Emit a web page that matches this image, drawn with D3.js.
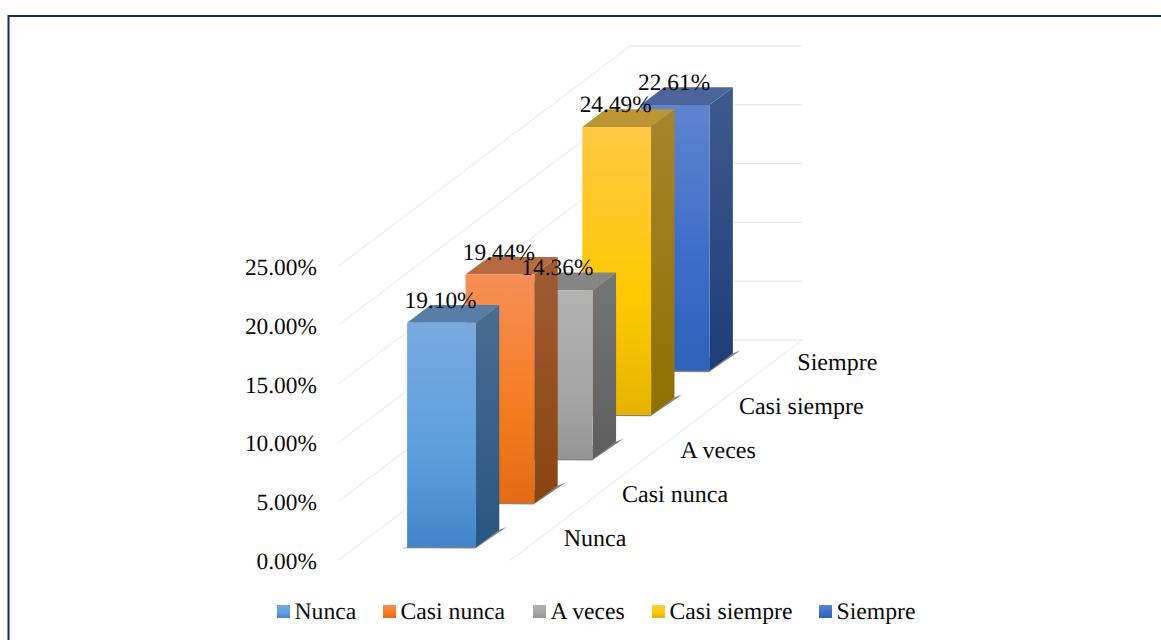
<!DOCTYPE html>
<html>
<head>
<meta charset="utf-8">
<script src="https://cdn.jsdelivr.net/npm/d3@7/dist/d3.min.js"></script>
<style>
  html, body { margin: 0; padding: 0; background: #fff; overflow: hidden; }
  text { font-family: "Liberation Serif", serif; fill: #0a0a0a; text-rendering: geometricPrecision; }
</style>
</head>
<body>
<div id="chart"></div>
<script>
const categories = ["Nunca", "Casi nunca", "A veces", "Casi siempre", "Siempre"];
const values = [19.10, 19.44, 14.36, 24.49, 22.61];
const valueTicks = [0, 5, 10, 15, 20, 25];

// colours of the faces, same order as categories
const frontTop = ["#78aae0", "#f68f58", "#b2b2b2", "#ffc845", "#6084cf"];
const frontMid = ["#5b9ede", "#f57b20", "#a6a6a6", "#ffc800", "#3c6cc8"];
const frontBottom = ["#4484c8", "#e36b15", "#959595", "#e6b400", "#2f62b8"];
const sideTop = ["#4a6c92", "#a05c35", "#757575", "#a8842d", "#3f5a8e"];
const sideBottom = ["#2a5582", "#8a440e", "#5e5e5e", "#8f7000", "#1e3c78"];
const topFace = ["#587ea8", "#b66a40", "#858585", "#bc9634", "#4b6499"];

const width = 1161, height = 640;
const svg = d3.select("#chart").append("svg")
  .attr("width", width)
  .attr("height", height);
const defs = svg.append("defs");

// border, the right side is not there in the picture
svg.append("path")
  .attr("d", "M8.5,640V16H1161")
  .attr("fill", "none")
  .attr("stroke", "#0d2a74")
  .attr("stroke-width", 2);

// the 3d box: origin is the front left corner of the floor
const origin = { x: 338, y: 560.5 };
const floorWidth = 172;
const depthVec = { x: 292, y: -220.5 };

const xBand = d3.scaleBand().domain(["bars"]).range([0, floorWidth])
  .paddingInner(0.6).paddingOuter(0.3);
const zBand = d3.scaleBand().domain(categories).range([0, 1])
  .paddingInner(0.6).paddingOuter(0.3);
const yScale = d3.scaleLinear().domain([0, 25]).range([0, 294]);

function project(x, z, v) {
  return [origin.x + x + depthVec.x * z, origin.y + depthVec.y * z - yScale(v)];
}
const line = d3.line();

// grid lines on the walls
const grid = svg.append("g").attr("fill", "none").attr("stroke", "#e6e6e6").attr("stroke-width", 1);
valueTicks.forEach(t => {
  grid.append("path").attr("d", line([project(0, 0, t), project(0, 1, t), project(floorWidth, 1, t)]));
});
grid.append("path").attr("d", line([project(floorWidth, 1, 0), project(floorWidth, 0, 0)]));

// value axis labels
svg.append("g").selectAll("text")
  .data(valueTicks)
  .join("text")
  .attr("x", 317)
  .attr("y", d => project(0, 0, d)[1] + 1)
  .attr("dy", "0.32em")
  .attr("text-anchor", "end")
  .attr("font-size", 23.4)
  .text(d => d3.format(".2f")(d) + "%");

// category labels along the right floor edge
svg.append("g").selectAll("text")
  .data(categories)
  .join("text")
  .attr("x", d => project(floorWidth, zBand(d) + zBand.bandwidth() / 2, 0)[0] + 24.5)
  .attr("y", d => project(floorWidth, zBand(d) + zBand.bandwidth() / 2, 0)[1])
  .attr("dy", "0.32em")
  .attr("font-size", 24)
  .text(d => d);

const rows = categories.map((c, i) => ({ c, v: values[i], i }));

rows.forEach(d => {
  const f = defs.append("linearGradient").attr("id", "front" + d.i)
    .attr("x1", 0).attr("y1", 0).attr("x2", 0).attr("y2", 1);
  f.append("stop").attr("offset", "0%").attr("stop-color", frontTop[d.i]);
  f.append("stop").attr("offset", "60%").attr("stop-color", frontMid[d.i]);
  f.append("stop").attr("offset", "100%").attr("stop-color", frontBottom[d.i]);
  const s = defs.append("linearGradient").attr("id", "side" + d.i)
    .attr("x1", 0).attr("y1", 0).attr("x2", 0).attr("y2", 1);
  s.append("stop").attr("offset", "0%").attr("stop-color", sideTop[d.i]);
  s.append("stop").attr("offset", "100%").attr("stop-color", sideBottom[d.i]);
});

// bars, from back to front
const x0 = xBand("bars"), x1 = x0 + xBand.bandwidth();
const bars = svg.append("g").selectAll("g")
  .data(rows.slice().reverse())
  .join("g");

bars.each(function (d) {
  const g = d3.select(this);
  const z0 = zBand(d.c), z1 = z0 + zBand.bandwidth();
  // shadow on the floor
  const s0 = project(x0 - 4, z0 - 0.004, 0), s1 = project(x1 + 1, z0 - 0.006, 0), s2 = project(x1 + 4, z1 + 0.012, 0), s3 = project(x1, z1, 0);
  g.append("path").attr("d", line([s0, s1, s2, s3]) + "Z").attr("fill", "#6f6f6f").attr("opacity", 0.85);
  // side
  g.append("path")
    .attr("d", line([project(x1, z0, 0), project(x1, z1, 0), project(x1, z1, d.v), project(x1, z0, d.v)]) + "Z")
    .attr("fill", `url(#side${d.i})`);
  // top
  g.append("path")
    .attr("d", line([project(x0, z0, d.v), project(x1, z0, d.v), project(x1, z1, d.v), project(x0, z1, d.v)]) + "Z")
    .attr("fill", topFace[d.i]);
  // front
  g.append("path")
    .attr("d", line([project(x0, z0, 0), project(x1, z0, 0), project(x1, z0, d.v), project(x0, z0, d.v)]) + "Z")
    .attr("fill", `url(#front${d.i})`);
});

// data labels sit above everything
svg.append("g").selectAll("text")
  .data(rows)
  .join("text")
  .attr("x", d => project((x0 + x1) / 2, zBand(d.c), d.v)[0] - 1)
  .attr("y", d => project((x0 + x1) / 2, zBand(d.c), d.v)[1] - 15)
  .attr("text-anchor", "middle")
  .attr("font-size", 23.4)
  .text(d => d3.format(".2f")(d.v) + "%");

// legend
const legendX = [277, 383, 533, 652, 819];
const legend = svg.append("g").selectAll("g")
  .data(rows)
  .join("g")
  .attr("transform", d => `translate(${legendX[d.i]},605)`);
legend.append("rect")
  .attr("width", 13).attr("height", 13)
  .attr("fill", d => `url(#front${d.i})`);
legend.append("text")
  .attr("x", 17.5).attr("y", 6.5).attr("dy", "0.32em")
  .attr("font-size", 23.7)
  .text(d => d.c);
</script>
</body>
</html>
